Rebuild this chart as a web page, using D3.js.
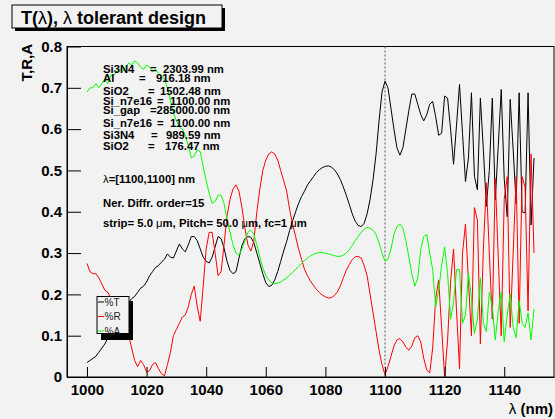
<!DOCTYPE html>
<html>
<head>
<meta charset="utf-8">
<script src="https://cdn.jsdelivr.net/npm/d3@7/dist/d3.min.js"></script>
<style>
  body { margin: 0; background: #f2f2f2; }
  svg { display: block; font-family: "Liberation Sans", Arial, Helvetica, sans-serif; }
</style>
</head>
<body>
<svg width="555" height="419"></svg>
<script>
// wavelength grid (nm), one sample per nm
const lambda = d3.range(1000, 1151);

// transmission T
const T = [
  0.035, 0.04, 0.045, 0.05, 0.06, 0.07, 0.08, 0.095, 0.105, 0.115,
  0.125, 0.14, 0.155, 0.168, 0.18, 0.19, 0.195, 0.205, 0.215, 0.22,
  0.23, 0.245, 0.255, 0.265, 0.27, 0.278, 0.285, 0.298, 0.29, 0.288,
  0.305, 0.322, 0.31, 0.303, 0.32, 0.34, 0.34, 0.33, 0.31, 0.29,
  0.28, 0.276, 0.29, 0.315, 0.34, 0.335, 0.312, 0.28, 0.258, 0.25,
  0.255, 0.288, 0.318, 0.335, 0.34, 0.338, 0.325, 0.30, 0.275, 0.25,
  0.228, 0.219, 0.222, 0.235, 0.255, 0.28, 0.305, 0.328, 0.355, 0.378,
  0.40, 0.42, 0.437, 0.45, 0.465, 0.475, 0.485, 0.495, 0.502, 0.507,
  0.51, 0.511, 0.508, 0.502, 0.492, 0.478, 0.46, 0.44, 0.418, 0.395,
  0.377, 0.367, 0.364, 0.372, 0.395, 0.43, 0.478, 0.54, 0.62, 0.69,
  0.716, 0.70, 0.65, 0.60, 0.555, 0.537, 0.555, 0.60, 0.645, 0.685,
  0.685, 0.66, 0.635, 0.62, 0.635, 0.66, 0.667, 0.63, 0.585, 0.59,
  0.68, 0.675, 0.60, 0.515, 0.61, 0.708, 0.59, 0.473, 0.53, 0.688,
  0.486, 0.453, 0.675, 0.55, 0.413, 0.50, 0.675, 0.429, 0.56, 0.696,
  0.48, 0.388, 0.672, 0.55, 0.42, 0.688, 0.40, 0.397, 0.688, 0.368, 0.53
];

// reflection R
const R = [
  0.275, 0.255, 0.25, 0.25, 0.24, 0.225, 0.21, 0.205, 0.19, 0.175,
  0.15, 0.14, 0.13, 0.115, 0.10, 0.07, 0.04, 0.025, 0.04, 0.03,
  0.012, 0.015, 0.03, 0.035, 0.02, 0.008, 0.003, 0.03, 0.06, 0.10,
  0.115, 0.13, 0.145, 0.15, 0.17, 0.20, 0.22, 0.17, 0.135, 0.22,
  0.31, 0.35, 0.35, 0.30, 0.245, 0.255, 0.32, 0.39, 0.43, 0.455,
  0.465, 0.45, 0.41, 0.36, 0.32, 0.305, 0.33, 0.40, 0.455, 0.50,
  0.525, 0.54, 0.545, 0.54, 0.525, 0.50, 0.475, 0.45, 0.405, 0.37,
  0.34, 0.31, 0.285, 0.26, 0.245, 0.232, 0.222, 0.212, 0.204, 0.198,
  0.194, 0.191, 0.192, 0.197, 0.206, 0.22, 0.24, 0.258, 0.272, 0.284,
  0.291, 0.292, 0.288, 0.27, 0.245, 0.20, 0.155, 0.11, 0.065, 0.03,
  0.005, 0.025, 0.05, 0.075, 0.09, 0.093, 0.085, 0.072, 0.065, 0.075,
  0.095, 0.10, 0.085, 0.045, 0.017, 0.01, 0.07, 0.19, 0.235, 0.12,
  0.0, 0.09, 0.23, 0.31, 0.16, 0.02, 0.30, 0.37, 0.23, 0.10,
  0.41, 0.38, 0.08, 0.31, 0.47, 0.30, 0.14, 0.48, 0.29, 0.10,
  0.43, 0.485, 0.12, 0.30, 0.485, 0.13, 0.485, 0.46, 0.16, 0.54, 0.30
];

// absorption A
const A = [
  0.69, 0.70, 0.70, 0.71, 0.70, 0.71, 0.72, 0.71, 0.73, 0.73,
  0.74, 0.745, 0.74, 0.75, 0.76, 0.755, 0.765, 0.76, 0.75, 0.745,
  0.755, 0.75, 0.74, 0.745, 0.735, 0.73, 0.72, 0.70, 0.67, 0.64,
  0.62, 0.605, 0.60, 0.585, 0.56, 0.53, 0.535, 0.55, 0.545, 0.51,
  0.475, 0.445, 0.42, 0.425, 0.44, 0.44, 0.42, 0.38, 0.35, 0.32,
  0.30, 0.295, 0.31, 0.33, 0.35, 0.355, 0.345, 0.32, 0.29, 0.265,
  0.245, 0.235, 0.228, 0.226, 0.227, 0.23, 0.235, 0.24, 0.247, 0.253,
  0.26, 0.268, 0.275, 0.282, 0.288, 0.293, 0.297, 0.30, 0.301, 0.301,
  0.30, 0.298, 0.296, 0.294, 0.292, 0.292, 0.295, 0.30, 0.308, 0.318,
  0.33, 0.34, 0.35, 0.358, 0.362, 0.36, 0.355, 0.345, 0.325, 0.30,
  0.28, 0.285, 0.31, 0.345, 0.365, 0.37, 0.36, 0.33, 0.29, 0.25,
  0.22, 0.24, 0.31, 0.34, 0.345, 0.30, 0.26, 0.17, 0.21, 0.27,
  0.315, 0.25, 0.14, 0.18, 0.26, 0.26, 0.13, 0.15, 0.25, 0.19,
  0.105, 0.14, 0.24, 0.13, 0.11, 0.205, 0.17, 0.09, 0.16, 0.205,
  0.085, 0.15, 0.20, 0.12, 0.095, 0.185, 0.13, 0.12, 0.155, 0.09, 0.165
];

const xTicks = [1000, 1020, 1040, 1060, 1080, 1100, 1120, 1140];
const yTicks = [0, 0.1, 0.2, 0.3, 0.4, 0.5, 0.6, 0.7, 0.8];
const markLambda = 1100;

const legendNames = ["%T", "%R", "%A"];
const seriesColors = ["#000000", "#ff0000", "#00ff00"];

const layerNames = ["Si3N4", "Al", "SiO2", "Si_n7e16", "Si_gap", "Si_n7e16", "Si3N4", "SiO2"];
const layerValues = ["2303.99 nm", "916.18 nm", "1502.48 nm", "1100.00 nm", "285000.00 nm", "1100.00 nm", "989.59 nm", "176.47 nm"];

var svg = d3.select("svg");

var x = d3.scaleLinear().domain([993.3, 1156.7]).range([67, 554]);
var y = d3.scaleLinear().domain([0, 0.8]).range([377, 46.5]);

var fontB = "bold";

// frame
svg.append("rect")
  .attr("x", 67).attr("y", 46.5)
  .attr("width", 487).attr("height", 330.5)
  .attr("fill", "#f2f2f2")
  .attr("stroke", "#000").attr("stroke-width", 1);

svg.append("clipPath").attr("id", "clip")
  .append("rect").attr("x", 67).attr("y", 46.5).attr("width", 487).attr("height", 330.5);

// dotted marker at 1100 nm
svg.append("line")
  .attr("x1", x(markLambda)).attr("x2", x(markLambda))
  .attr("y1", y(0.8)).attr("y2", y(0))
  .attr("stroke", "#555").attr("stroke-dasharray", "2,2");

// curves
var series = [T, R, A];
var line = d3.line()
  .x((d, i) => x(lambda[i]))
  .y(d => y(d));

var curves = svg.append("g").attr("clip-path", "url(#clip)");
series.forEach((s, k) => {
  curves.append("path")
    .datum(s)
    .attr("d", line)
    .attr("fill", "none")
    .attr("stroke", seriesColors[k])
    .attr("stroke-width", 1);
});

// x axis
var xAxis = svg.append("g").attr("transform", "translate(0,377)");
xAxis.call(d3.axisBottom(x).tickValues(d3.range(995, 1156, 5)).tickSize(-5).tickFormat(""));
xAxis.call(d3.axisBottom(x).tickValues(xTicks).tickSizeInner(-10).tickSizeOuter(0).tickPadding(7.5).tickFormat(d3.format("d")));
xAxis.selectAll(".domain").attr("stroke", "#000");
xAxis.selectAll("text")
  .attr("font-size", 15).attr("font-weight", fontB)
  .attr("font-family", "Liberation Sans, Arial, sans-serif").attr("fill", "#000");

// y axis
var yAxis = svg.append("g").attr("transform", "translate(67,0)");
yAxis.call(d3.axisLeft(y).tickValues(d3.range(0, 81).map(v => v / 100)).tickSize(-7).tickFormat(""));
yAxis.call(d3.axisLeft(y).tickValues(yTicks).tickSizeInner(-14).tickSizeOuter(0).tickPadding(5)
  .tickFormat(d => d === 0 ? "0" : d3.format(".1f")(d)));
yAxis.selectAll("text")
  .attr("font-size", 15).attr("font-weight", fontB)
  .attr("font-family", "Liberation Sans, Arial, sans-serif").attr("fill", "#000");

// axis titles
svg.append("text")
  .attr("transform", "translate(32,44) rotate(-90)")
  .attr("text-anchor", "end")
  .attr("font-size", 15).attr("font-weight", fontB)
  .text("T,R,A");

svg.append("text")
  .attr("x", 553).attr("y", 414)
  .attr("text-anchor", "end")
  .attr("font-size", 15).attr("font-weight", fontB)
  .call(t => {
    t.append("tspan").attr("font-weight", "normal").text("λ");
    t.append("tspan").text(" (nm)");
  });

// title box
svg.append("rect").attr("x", 15).attr("y", 8).attr("width", 210).attr("height", 23).attr("fill", "#000");
svg.append("rect").attr("x", 12).attr("y", 5).attr("width", 210).attr("height", 23)
  .attr("fill", "#f2f2f2").attr("stroke", "#000").attr("stroke-width", 1);
svg.append("text")
  .attr("x", 21).attr("y", 23.5)
  .attr("font-size", 18).attr("font-weight", fontB)
  .call(t => {
    t.append("tspan").text("T(");
    t.append("tspan").attr("font-weight", "normal").text("λ");
    t.append("tspan").text("), ");
    t.append("tspan").attr("font-weight", "normal").text("λ");
    t.append("tspan").text(" tolerant design");
  });

// layer stack text
var eqX = [150, 139, 148, 157, 150, 157, 151, 148];
var valX = [163, 156, 160, 170, 150, 170, 166, 165];
var rowY = [73.3, 81.7, 95, 105, 114, 126.5, 139, 150];
var info = svg.append("g").attr("font-size", 11.3).attr("font-weight", fontB).attr("fill", "#000");
layerNames.forEach((name, i) => {
  info.append("text").attr("x", 103).attr("y", rowY[i]).text(name);
  if (name === "Si_gap") {
    info.append("text").attr("x", valX[i]).attr("y", rowY[i]).text("=" + layerValues[i]);
  } else {
    info.append("text").attr("x", eqX[i]).attr("y", rowY[i]).text("=");
    info.append("text").attr("x", valX[i]).attr("y", rowY[i]).text(layerValues[i]);
  }
});

info.append("text").attr("x", 103).attr("y", 182.5)
  .call(t => {
    t.append("tspan").attr("font-weight", "normal").text("λ");
    t.append("tspan").text("=[1100,1100] nm");
  });
info.append("text").attr("x", 103).attr("y", 206.5).text("Ner. Diffr. order=15");
info.append("text").attr("x", 103).attr("y", 226.5)
  .call(t => {
    t.append("tspan").text("strip= 5.0 ");
    t.append("tspan").attr("font-weight", "normal").text("μ");
    t.append("tspan").text("m, Pitch= 50.0 ");
    t.append("tspan").attr("font-weight", "normal").text("μ");
    t.append("tspan").text("m, fc=1 ");
    t.append("tspan").attr("font-weight", "normal").text("μ");
    t.append("tspan").text("m");
  });

// legend
var lg = svg.append("g");
lg.append("rect").attr("x", 101).attr("y", 301).attr("width", 32).attr("height", 39).attr("fill", "#000");
lg.append("rect").attr("x", 97).attr("y", 296.5).attr("width", 32).attr("height", 37)
  .attr("fill", "#f2f2f2").attr("stroke", "#000").attr("stroke-width", 1);
legendNames.forEach((name, i) => {
  var ly = 302 + i * 14.5;
  lg.append("line").attr("x1", 98).attr("x2", 104).attr("y1", ly).attr("y2", ly)
    .attr("stroke", seriesColors[i]).attr("stroke-width", 1);
  lg.append("text").attr("x", 104.5).attr("y", ly + 3.5)
    .attr("font-size", 10).attr("fill", "#222").text(name);
});
</script>
</body>
</html>
